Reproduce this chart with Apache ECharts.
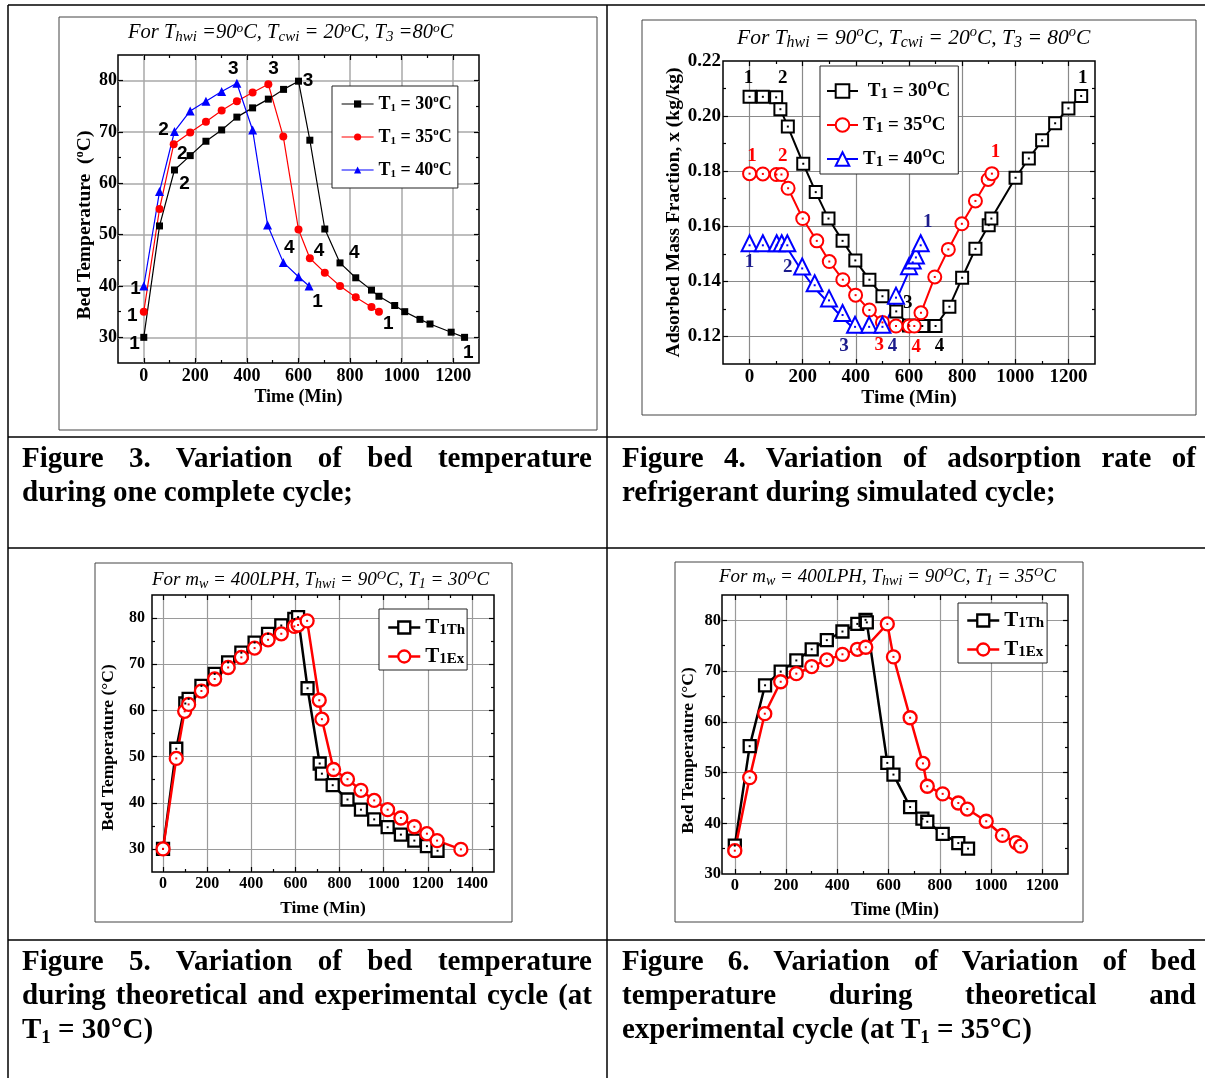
<!DOCTYPE html>
<html>
<head>
<meta charset="utf-8">
<script src="https://cdn.jsdelivr.net/npm/echarts@6/dist/echarts.min.js"></script>
<style>
html,body{margin:0;padding:0;background:#fff;}
#chart{position:absolute;left:0;top:0;width:1205px;height:1078px;z-index:1;}
.cap{position:absolute;z-index:2;font-family:"Liberation Serif","Times New Roman",serif;font-weight:bold;font-size:29px;line-height:34px;color:#000;}
.cap div{white-space:nowrap;}
.cap .j{text-align:justify;text-align-last:justify;white-space:normal;}
.cap sub{font-size:19px;line-height:0;vertical-align:-5px;}
</style>
</head>
<body>
<div id="chart"></div>
<div class="cap" style="left:22px;top:440px;width:570px;">
  <div class="j">Figure 3. Variation of bed temperature</div>
  <div>during one complete cycle;</div>
</div>
<div class="cap" style="left:622px;top:440px;width:574px;">
  <div class="j">Figure 4. Variation of adsorption rate of</div>
  <div>refrigerant during simulated cycle;</div>
</div>
<div class="cap" style="left:22px;top:943px;width:570px;">
  <div class="j">Figure 5. Variation of bed temperature</div>
  <div class="j">during theoretical and experimental cycle (at</div>
  <div>T<sub>1</sub> = 30°C)</div>
</div>
<div class="cap" style="left:622px;top:943px;width:574px;">
  <div class="j">Figure 6. Variation of Variation of bed</div>
  <div class="j">temperature during theoretical and</div>
  <div>experimental cycle (at T<sub>1</sub> = 35°C)</div>
</div>
<script>
// ---------------- Figure 3 : bed temperature, one cycle ----------------
const f3Time30 = [0,61,119,180,241,302,361,422,483,542,600,644,702,761,822,883,912,973,1012,1071,1110,1192,1244];
const f3Temp30 = [30,51.7,62.6,65.4,68.2,70.4,72.9,74.7,76.4,78.3,79.9,68.4,51.1,44.5,41.6,39.2,38.0,36.2,35.0,33.5,32.6,31.0,30.0];
const f3Time35 = [0,61,116,180,241,302,361,422,483,541,600,644,702,761,822,883,912];
const f3Temp35 = [35,55,67.6,69.9,72.0,74.2,76.0,77.7,79.3,69.1,51.0,45.4,42.6,40.0,37.8,35.9,35.0];
const f3Time40 = [0,61,119,180,241,302,361,422,480,541,600,641];
const f3Temp40 = [40,58.4,70.1,74.1,76.0,77.9,79.5,70.4,51.9,44.6,41.8,40.0];
const f3XLabels = [0,200,400,600,800,1000,1200];
const f3XMinor = [100,300,500,700,900,1100];
const f3YLabels = [30,40,50,60,70,80];
const f3YMinor = [35,45,55,65,75];
const f3Notes = [[347,82.4,'3'],[503,82.4,'3'],[637,80.0,'3'],[77,70.4,'2'],[149,65.8,'2'],[158,60.0,'2'],
  [564,47.4,'4'],[680,46.9,'4'],[816,46.4,'4'],[-32,39.5,'1'],[-45,34.2,'1'],[-36,28.7,'1'],
  [674,36.9,'1'],[948,32.6,'1'],[1258,26.9,'1']];

// ---------------- Figure 4 : adsorbed mass fraction ----------------
const f4Time30 = [0,50,100,116,144,202,249,297,350,398,451,500,552,600,650,700,752,800,850,900,910,1001,1051,1101,1150,1200,1248];
const f4X30 = [0.2070,0.2070,0.2068,0.2025,0.1962,0.1827,0.1724,0.1628,0.1547,0.1476,0.1406,0.1346,0.1291,0.1240,0.1238,0.1238,0.1308,0.1413,0.1518,0.1604,0.1628,0.1776,0.1846,0.1912,0.1974,0.2028,0.2073];
const f4Time35 = [0,50,101,120,145,200,253,300,351,399,451,500,551,601,620,645,697,748,799,850,898,912];
const f4X35 = [0.1791,0.1790,0.1788,0.1788,0.1738,0.1628,0.1547,0.1472,0.1406,0.1350,0.1296,0.1251,0.1238,0.1238,0.1238,0.1286,0.1416,0.1516,0.1609,0.1692,0.1770,0.1791];
const f4Time40 = [0,50,102,121,142,198,245,299,350,397,450,500,551,600,614,626,644];
const f4X40 = [0.1520,0.1520,0.1520,0.1520,0.1520,0.1436,0.1375,0.1320,0.1267,0.1224,0.1224,0.1224,0.1330,0.1437,0.1458,0.1476,0.1520];
const f4XLabels = [0,200,400,600,800,1000,1200];
const f4XMinor = [100,300,500,700,900,1100];
const f4YLabels = [0.12,0.14,0.16,0.18,0.20,0.22];
const f4YMinor = [0.13,0.15,0.17,0.19,0.21];
const f4NotesBlack = [[-4,0.2137,'1'],[125,0.2137,'2'],[1254,0.2137,'1'],[595,0.1320,'3'],[715,0.1164,'4']];
const f4NotesRed = [[9,0.1854,'1'],[125,0.1854,'2'],[926,0.1870,'1'],[488,0.1167,'3'],[627,0.1160,'4']];
const f4NotesBlue = [[0,0.1470,'1'],[144,0.1452,'2'],[355,0.1164,'3'],[538,0.1164,'4'],[671,0.1616,'1']];

// ---------------- Figure 5 : theory vs experiment, T1 = 30 ----------------
const f5TimeTh = [0,60,101,116,174,234,295,355,415,476,536,595,612,655,710,720,769,836,897,957,1018,1078,1139,1196,1244];
const f5TempTh = [30.0,51.7,61.5,62.5,65.3,67.9,70.4,72.5,74.7,76.6,78.4,79.8,80.2,64.8,48.5,46.3,43.8,40.7,38.5,36.4,34.7,33.1,31.8,30.6,29.6];
const f5TimeEx = [0,60,98,116,174,234,295,355,415,476,536,595,612,653,708,720,773,836,897,957,1018,1078,1139,1196,1242,1350];
const f5TempEx = [30.0,49.6,59.8,61.3,64.2,66.8,69.3,71.5,73.5,75.3,76.6,78.2,78.5,79.4,62.2,58.1,47.2,45.1,42.7,40.5,38.5,36.7,34.8,33.3,31.8,29.9];
const f5XLabels = [0,200,400,600,800,1000,1200,1400];
const f5XMinor = [100,300,500,700,900,1100,1300];
const f5YLabels = [30,40,50,60,70,80];
const f5YMinor = [35,45,55,65,75];

// ---------------- Figure 6 : theory vs experiment, T1 = 35 ----------------
const f6TimeTh = [0,58,118,179,240,300,359,420,478,510,515,595,619,684,732,751,811,872,910];
const f6TempTh = [35.6,55.2,67.2,69.9,72.1,74.3,76.1,77.8,79.3,80.1,79.6,51.9,49.6,43.2,40.9,40.3,37.9,36.1,35.0];
const f6TimeEx = [0,58,117,179,240,300,359,420,478,511,595,619,684,734,751,811,872,907,981,1044,1098,1115];
const f6TempEx = [34.6,49.0,61.6,67.9,69.5,70.9,72.2,73.3,74.3,74.7,79.3,72.8,60.8,51.8,47.3,45.8,44.0,42.8,40.4,37.6,36.2,35.5];
const f6XLabels = [0,200,400,600,800,1000,1200];
const f6XMinor = [100,300,500,700,900,1100];
const f6YLabels = [30,40,50,60,70,80];
const f6YMinor = [35,45,55,65,75];

// ---------------- helpers ----------------
const SERIF = '"Liberation Serif","Times New Roman",serif';
const SANS = '"Liberation Sans",Arial,sans-serif';
function zip(xs, ys) { return xs.map((x, i) => [x, ys[i]]); }
function inside(vals, min, max) { return vals.filter(v => v > min + 1e-9 && v < max - 1e-9); }

function axisSet(dim, g, c) {
  const p = dim === 'x' ? ['bottom', 'top'] : ['left', 'right'];
  const tl = {color: '#000', width: 1.2};
  const majorTicks = inside(c.labels, c.min, c.max);
  const minorTicks = inside(c.minor, c.min, c.max);
  const base = {type: 'value', gridIndex: g, min: c.min, max: c.max, silent: true,
    axisLine: {show: false, onZero: false}, axisPointer: {show: false}};
  const main = Object.assign({}, base, {
    position: p[0],
    axisTick: {show: true, inside: true, length: 5, customValues: majorTicks, lineStyle: tl},
    axisLabel: {show: true, customValues: c.labels, margin: c.margin, formatter: c.fmt || (v => String(v)),
      fontFamily: SERIF, fontWeight: 'bold', fontSize: c.fs, color: '#000'},
    splitLine: {show: true, lineStyle: {color: c.grid, width: c.gw}},
    name: c.name, nameLocation: 'middle', nameGap: c.gap, nameRotate: dim === 'y' ? 90 : 0,
    nameTextStyle: c.nameStyle
  });
  const tickOnly = (pos, vals, len) => Object.assign({}, base, {
    position: pos,
    axisTick: {show: true, inside: true, length: len, customValues: vals, lineStyle: tl},
    axisLabel: {show: false}, splitLine: {show: false}
  });
  return [main, tickOnly(p[0], minorTicks, 3), tickOnly(p[1], majorTicks, 5), tickOnly(p[1], minorTicks, 3)];
}

function lineSeries(name, g, data, color, symbol, size, lw, hollow, bw, extra) {
  return Object.assign({
    type: 'line', name: name, xAxisIndex: g * 4, yAxisIndex: g * 4, data: data,
    symbol: symbol, symbolSize: size, showAllSymbol: true, animation: false, silent: true, clip: false,
    lineStyle: {color: color, width: lw},
    itemStyle: hollow ? {color: '#fff', borderColor: color, borderWidth: bw} : {color: color, borderWidth: 0},
    emphasis: {disabled: true}
  }, extra || {});
}
function dotSeries(g, data, color, extra) {
  return Object.assign({
    type: 'scatter', xAxisIndex: g * 4, yAxisIndex: g * 4, data: data, symbol: 'rect', symbolSize: 2,
    itemStyle: {color: color, opacity: 1}, silent: true, animation: false, z: 3, emphasis: {disabled: true}
  }, extra || {});
}
// point annotations ("1", "2", "3", "4") placed through the axes' scales
function noteSeries(g, notes, color, font, size) {
  return {
    type: 'custom', xAxisIndex: g * 4, yAxisIndex: g * 4, silent: true, animation: false, z: 5,
    data: notes.map(n => [n[0], n[1]]), encode: {x: 0, y: 1}, clip: false,
    renderItem: function (params, api) {
      const pt = api.coord([api.value(0), api.value(1)]);
      return {type: 'text', x: pt[0], y: pt[1], silent: true,
        style: {text: notes[params.dataIndex][2], fill: color, align: 'center', verticalAlign: 'middle',
          font: 'bold ' + size + 'px ' + font}};
    }
  };
}
function richSet(fam, style, weight, fs, sfs, pfs, lh) {
  const b = {fontFamily: fam, fontStyle: style, fontWeight: weight, color: '#000'};
  return {
    n: Object.assign({fontSize: fs, lineHeight: lh, verticalAlign: 'middle'}, b),
    s: Object.assign({fontSize: sfs, lineHeight: sfs, verticalAlign: 'bottom'}, b),
    p: Object.assign({fontSize: pfs, lineHeight: pfs, verticalAlign: 'top'}, b)
  };
}

const legendText = {
  f3_30: '{n|T}{s|1}{n| = 30}{p|o}{n|C}', f3_35: '{n|T}{s|1}{n| = 35}{p|o}{n|C}', f3_40: '{n|T}{s|1}{n| = 40}{p|o}{n|C}',
  f4_30: '{n| T}{s|1}{n| = 30}{p|O}{n|C}', f4_35: '{n|T}{s|1}{n| = 35}{p|O}{n|C}', f4_40: '{n|T}{s|1}{n| = 40}{p|O}{n|C}',
  f5_th: '{n|T}{s|1Th}', f5_ex: '{n|T}{s|1Ex}', f6_th: '{n|T}{s|1Th}', f6_ex: '{n|T}{s|1Ex}'
};

const nameX = fs => ({fontFamily: SERIF, fontWeight: 'bold', fontSize: fs, color: '#000'});
const nameY = (fs, shift) => ({fontFamily: SERIF, fontWeight: 'bold', fontSize: fs, color: '#000', padding: [0, shift, 0, 0]});
const nameYRich = (fs, shift) => ({fontFamily: SERIF, fontWeight: 'bold', fontSize: fs, color: '#000', padding: [0, shift, 0, 0],
  rich: richSet(SERIF, 'normal', 'bold', fs, fs * 0.65, fs * 0.65, fs + 4)});

const xAxes = [].concat(
  axisSet('x', 0, {min: -100, max: 1300, labels: f3XLabels, minor: f3XMinor, fs: 18, margin: 4, grid: '#a8a8a8', gw: 1.5,
    name: 'Time (Min)', gap: 25, nameStyle: nameX(18)}),
  axisSet('x', 1, {min: -100, max: 1300, labels: f4XLabels, minor: f4XMinor, fs: 19, margin: 4, grid: '#8a8a8a', gw: 1.2,
    name: 'Time (Min)', gap: 24, nameStyle: nameX(19.5)}),
  axisSet('x', 2, {min: -50, max: 1500, labels: f5XLabels, minor: f5XMinor, fs: 16, margin: 4, grid: '#9a9a9a', gw: 1.2,
    name: 'Time (Min)', gap: 27, nameStyle: nameX(17.5)}),
  axisSet('x', 3, {min: -50, max: 1300, labels: f6XLabels, minor: f6XMinor, fs: 16.5, margin: 3, grid: '#9a9a9a', gw: 1.2,
    name: 'Time (Min)', gap: 27, nameStyle: nameX(18)})
);
const yAxes = [].concat(
  axisSet('y', 0, {min: 25, max: 85, labels: f3YLabels, minor: f3YMinor, fs: 18, margin: 1, grid: '#a8a8a8', gw: 1.5,
    name: '{n|Bed Temperature  (}{p|o}{n|C)}', gap: 19, nameStyle: nameYRich(19.5, 32)}),
  axisSet('y', 1, {min: 0.11, max: 0.22, labels: f4YLabels, minor: f4YMinor, fs: 19, margin: 2, grid: '#8a8a8a', gw: 1.2,
    fmt: v => v.toFixed(2), name: 'Adsorbed Mass Fraction, x (kg/kg)', gap: 37, nameStyle: nameY(19.5, 0)}),
  axisSet('y', 2, {min: 25, max: 85, labels: f5YLabels, minor: f5YMinor, fs: 16, margin: 7, grid: '#9a9a9a', gw: 1.2,
    name: 'Bed Temperature (°C)', gap: 35, nameStyle: nameY(17.5, 28)}),
  axisSet('y', 3, {min: 30, max: 85, labels: f6YLabels, minor: f6YMinor, fs: 16.5, margin: 1, grid: '#9a9a9a', gw: 1.2,
    name: 'Bed Temperature (°C)', gap: 25, nameStyle: nameY(17.5, 32)})
);

const gridBase = {show: true, borderColor: '#000', borderWidth: 1.5, backgroundColor: 'transparent', containLabel: false, outerBoundsMode: 'none'};
const grids = [
  Object.assign({left: 118, top: 55, width: 361, height: 308}, gridBase),
  Object.assign({left: 723, top: 61, width: 372, height: 303}, gridBase),
  Object.assign({left: 152, top: 595, width: 342, height: 277}, gridBase),
  Object.assign({left: 722, top: 595, width: 346, height: 279}, gridBase)
];

const RED = '#ff0000', BLUE = '#0000ff', BLK = '#000000', NAVY = '#1c1c8c';
const triOff = {symbolOffset: [0, -5]};
const series = [
  // fig 3
  lineSeries('f3_30', 0, zip(f3Time30, f3Temp30), BLK, 'rect', 7, 1.2, false),
  lineSeries('f3_35', 0, zip(f3Time35, f3Temp35), RED, 'circle', 8, 1.2, false),
  lineSeries('f3_40', 0, zip(f3Time40, f3Temp40), BLUE, 'triangle', 9, 1.2, false),
  noteSeries(0, f3Notes, BLK, SANS, 19),
  // fig 4
  lineSeries('f4_30', 1, zip(f4Time30, f4X30), BLK, 'rect', 12, 2, true, 2),
  lineSeries('f4_35', 1, zip(f4Time35, f4X35), RED, 'circle', 13, 2, true, 2),
  lineSeries('f4_40', 1, zip(f4Time40, f4X40), BLUE, 'triangle', 16, 2, true, 2, triOff),
  dotSeries(1, zip(f4Time30, f4X30), BLK),
  dotSeries(1, zip(f4Time35, f4X35), RED),
  dotSeries(1, zip(f4Time40, f4X40), BLUE, {symbolOffset: [0, -3]}),
  noteSeries(1, f4NotesBlack, BLK, SERIF, 19),
  noteSeries(1, f4NotesRed, RED, SERIF, 19),
  noteSeries(1, f4NotesBlue, NAVY, SERIF, 19),
  // fig 5
  lineSeries('f5_th', 2, zip(f5TimeTh, f5TempTh), BLK, 'rect', 12, 2.5, true, 2.3),
  lineSeries('f5_ex', 2, zip(f5TimeEx, f5TempEx), RED, 'circle', 13, 2.5, true, 2.3),
  dotSeries(2, zip(f5TimeTh, f5TempTh), BLK),
  dotSeries(2, zip(f5TimeEx, f5TempEx), RED),
  // fig 6
  lineSeries('f6_th', 3, zip(f6TimeTh, f6TempTh), BLK, 'rect', 12, 2.5, true, 2.3),
  lineSeries('f6_ex', 3, zip(f6TimeEx, f6TempEx), RED, 'circle', 13, 2.5, true, 2.3),
  dotSeries(3, zip(f6TimeTh, f6TempTh), BLK),
  dotSeries(3, zip(f6TimeEx, f6TempEx), RED)
];

function legendBox(names, left, top, iw, ih, gap, pad, rich, lw, bw) {
  return {
    data: names, left: left, top: top, orient: 'vertical', itemWidth: iw, itemHeight: ih, itemGap: gap,
    padding: pad, backgroundColor: '#fff', borderColor: '#222', borderWidth: 1, selectedMode: false,
    formatter: n => legendText[n], textStyle: {rich: rich},
    lineStyle: {width: lw}, itemStyle: {borderWidth: bw}
  };
}
const legends = [
  legendBox(['f3_30', 'f3_35', 'f3_40'], 332, 86, 32, 9, 13, [8, 6, 8, 9], richSet(SERIF, 'normal', 'bold', 18, 11, 11, 20), 1.2, 0),
  legendBox(['f4_30', 'f4_35', 'f4_40'], 820, 66, 31, 17, 12, [14, 8, 4, 6], richSet(SERIF, 'normal', 'bold', 19, 15, 12, 22), 2, 2),
  legendBox(['f5_th', 'f5_ex'], 379, 609, 32, 15, 8, [8, 2, 3, 8], richSet(SERIF, 'normal', 'bold', 21, 15, 12, 20), 2.5, 2.3),
  legendBox(['f6_th', 'f6_ex'], 958, 603, 32, 15, 8, [7, 3, 3, 8], richSet(SERIF, 'normal', 'bold', 21, 15, 12, 20), 2.5, 2.3)
];

const titles = [
  {text: '{n|For T}{s|hwi}{n| =90}{p|o}{n|C, T}{s|cwi}{n| = 20}{p|o}{n|C, T}{s|3}{n| =80}{p|o}{n|C}', left: 128, top: 21,
    rich: richSet(SERIF, 'italic', 'normal', 20.5, 15, 13.5, 24)},
  {text: '{n|For T}{s|hwi}{n| = 90}{p|o}{n|C, T}{s|cwi}{n| = 20}{p|o}{n|C, T}{s|3}{n| = 80}{p|o}{n|C}', left: 737, top: 25,
    rich: richSet(SERIF, 'italic', 'normal', 21.5, 16, 14.5, 26)},
  {text: '{n|For m}{s|w}{n| = 400LPH, T}{s|hwi}{n| = 90}{p|O}{n|C, T}{s|1}{n| = 30}{p|O}{n|C}', left: 152, top: 569,
    rich: richSet(SERIF, 'italic', 'normal', 19, 14, 13, 22)},
  {text: '{n|For m}{s|w}{n| = 400LPH, T}{s|hwi}{n| = 90}{p|O}{n|C, T}{s|1}{n| = 35}{p|O}{n|C}', left: 719, top: 566,
    rich: richSet(SERIF, 'italic', 'normal', 19, 14, 13, 22)}
].map(t => ({text: t.text, left: t.left, top: t.top, padding: 0, textStyle: {rich: t.rich}}));

const lineStyle = {stroke: '#000', lineWidth: 1.5};
const frameStyle = {stroke: '#444', lineWidth: 1, fill: 'none'};
const graphic = [
  {type: 'line', shape: {x1: 8, y1: 5, x2: 1205, y2: 5}, style: lineStyle, silent: true},
  {type: 'line', shape: {x1: 8, y1: 5, x2: 8, y2: 1078}, style: lineStyle, silent: true},
  {type: 'line', shape: {x1: 607, y1: 5, x2: 607, y2: 1078}, style: lineStyle, silent: true},
  {type: 'line', shape: {x1: 8, y1: 437, x2: 1205, y2: 437}, style: lineStyle, silent: true},
  {type: 'line', shape: {x1: 8, y1: 548, x2: 1205, y2: 548}, style: lineStyle, silent: true},
  {type: 'line', shape: {x1: 8, y1: 940, x2: 1205, y2: 940}, style: lineStyle, silent: true},
  {type: 'rect', shape: {x: 59, y: 17, width: 538, height: 413}, style: frameStyle, silent: true},
  {type: 'rect', shape: {x: 642, y: 20, width: 554, height: 395}, style: frameStyle, silent: true},
  {type: 'rect', shape: {x: 95, y: 563, width: 417, height: 359}, style: frameStyle, silent: true},
  {type: 'rect', shape: {x: 675, y: 562, width: 408, height: 360}, style: frameStyle, silent: true}
];

const chart = echarts.init(document.getElementById('chart'), null, {renderer: 'canvas'});
chart.setOption({
  animation: false,
  backgroundColor: 'transparent',
  title: titles,
  legend: legends,
  grid: grids,
  xAxis: xAxes,
  yAxis: yAxes,
  series: series,
  graphic: graphic
});
</script>
</body>
</html>
